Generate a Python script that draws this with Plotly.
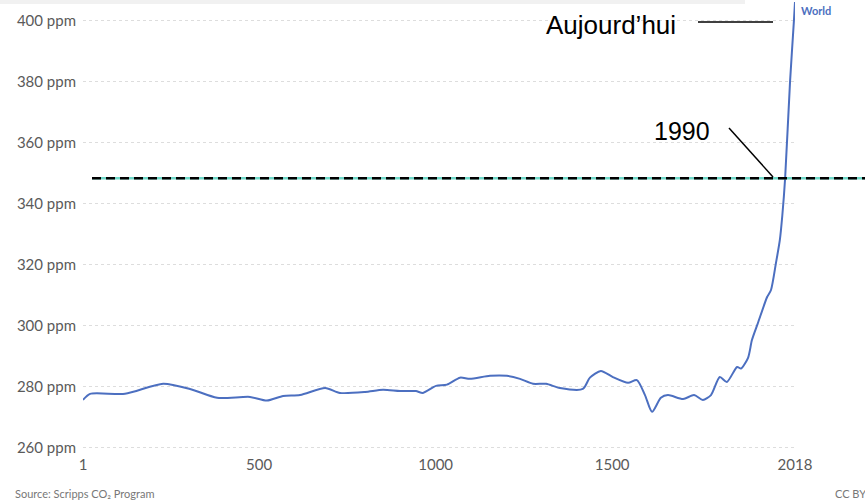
import plotly.graph_objects as go

# ---- data ----
years = [1, 21, 120, 228, 304, 381, 474, 522, 568, 616, 687, 729, 800, 851, 899, 944, 964,
         1001, 1032, 1069, 1097, 1154, 1202, 1239, 1276, 1313, 1352, 1417, 1437, 1468, 1502,
         1545, 1570, 1593, 1613, 1638, 1658, 1701, 1732, 1757, 1780, 1805, 1825, 1854, 1865,
         1885, 1896, 1913, 1939, 1950, 1964, 1975, 1982, 1990, 2004, 2015, 2018]
co2_ppm = [275.7, 277.7, 277.7, 281.0, 279.3, 276.4, 276.7, 275.5, 277.0, 277.3, 279.6, 278.0,
           278.3, 279.0, 278.6, 278.6, 278.0, 280.3, 280.7, 283.0, 282.6, 283.6, 283.6, 282.6,
           281.0, 281.0, 279.6, 279.3, 283.0, 285.2, 283.2, 281.3, 282.2, 277.3, 271.8, 276.4,
           277.3, 276.0, 277.3, 275.7, 277.3, 283.2, 281.6, 286.5, 286.0, 289.5, 295.3, 300.9,
           309.4, 311.7, 320.5, 328.0, 336.0, 348.3, 380.0, 400.0, 406.0]
series_name = "World"
x_ticks = [1, 500, 1000, 1500, 2018]
y_ticks = [260, 280, 300, 320, 340, 360, 380, 400]
y_tick_labels = [f"{v} ppm" for v in y_ticks]
ref_1990 = 348.3
label_today = "Aujourd’hui"
label_1990 = "1990"
source_text = "Source: Scripps CO₂ Program"
license_text = "CC BY"

W, H = 865, 503
ML, MR, MT, MB = 83, 70, 2, 49
PW, PH = W - ML - MR, H - MT - MB

def px(x):
    return (x - ML) / PW

def py(y):
    return (H - MB - y) / PH

blue = "#4c6fc0"

fig = go.Figure()
fig.add_trace(go.Scatter(x=years, y=co2_ppm, mode="lines", name=series_name,
                         line=dict(color=blue, width=2, shape="spline", smoothing=0.7),
                         showlegend=False))

shapes = [
    # light top band
    dict(type="rect", xref="paper", yref="paper", x0=px(0), x1=px(745), y0=py(4), y1=py(-2),
         fillcolor="#f1f1f1", line=dict(width=0), layer="below"),
    # 1990 reference line: teal base + black dashes
    dict(type="line", xref="paper", yref="y", x0=px(92), x1=px(866), y0=ref_1990, y1=ref_1990,
         line=dict(color="#6fd8c8", width=2.5)),
    dict(type="line", xref="paper", yref="y", x0=px(92), x1=px(866), y0=ref_1990, y1=ref_1990,
         line=dict(color="black", width=2.5, dash="9px,5px")),
    # pointer lines
    dict(type="line", xref="paper", yref="paper", x0=px(698), x1=px(773), y0=py(22), y1=py(22),
         line=dict(color="black", width=1.5)),
    dict(type="line", xref="paper", yref="paper", x0=px(729), x1=px(773), y0=py(128), y1=py(177),
         line=dict(color="black", width=1.5)),
]

annotations = [
    dict(text=label_today, xref="paper", yref="paper", x=px(544), y=py(25), xanchor="left",
         yanchor="middle", showarrow=False,
         font=dict(family="Liberation Sans, Arial", size=26, color="black")),
    dict(text=label_1990, xref="paper", yref="paper", x=px(652), y=py(131), xanchor="left",
         yanchor="middle", showarrow=False,
         font=dict(family="Liberation Sans, Arial", size=25, color="black")),
    dict(text="<b>" + series_name + "</b>", xref="paper", yref="paper", x=px(799), y=py(11),
         xanchor="left", yanchor="middle", showarrow=False,
         font=dict(family="Lato", size=11, color=blue)),
    dict(text=source_text, xref="paper", yref="paper", x=px(13), y=py(494), xanchor="left",
         yanchor="middle", showarrow=False,
         font=dict(family="Lato", size=11, color="#777777")),
    dict(text=license_text, xref="paper", yref="paper", x=px(833), y=py(494), xanchor="left",
         yanchor="middle", showarrow=False,
         font=dict(family="Lato", size=11, color="#777777")),
]

fig.update_layout(
    width=W, height=H,
    margin=dict(l=ML, r=MR, t=MT, b=MB),
    paper_bgcolor="white", plot_bgcolor="white",
    shapes=shapes, annotations=annotations,
    xaxis=dict(range=[1, 2018], tickvals=x_ticks, showgrid=False, zeroline=False,
               showline=False, ticks="", tickfont=dict(family="Lato", size=15, color="#5a5a5a")),
    yaxis=dict(range=[258, 406], tickvals=y_ticks, ticktext=y_tick_labels, showgrid=True,
               gridcolor="#dddddd", griddash="3px,3px", zeroline=False, showline=False,
               ticks="", ticklabelstandoff=6,
               tickfont=dict(family="Lato", size=15, color="#5a5a5a")),
)

fig.write_html("out.html", config={"displayModeBar": False},
               post_script="document.body.style.margin='0';")
